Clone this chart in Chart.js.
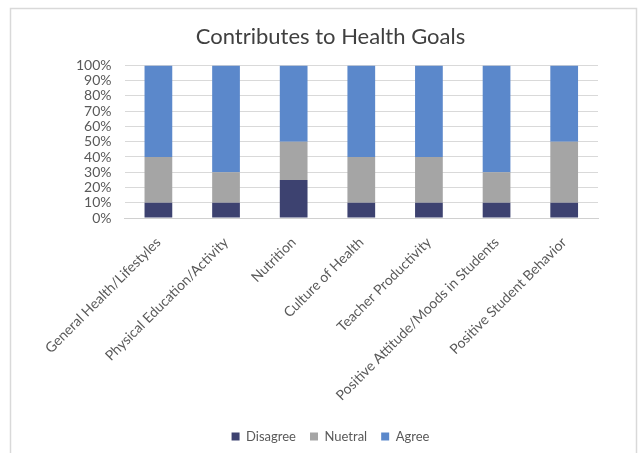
<!DOCTYPE html>
<html>
<head>
<meta charset="utf-8">
<script src="https://cdn.jsdelivr.net/npm/chart.js@4"></script>
<style>
  html, body { margin: 0; padding: 0; background: #fff; }
  #wrap { width: 639px; height: 453px; position: relative; }
</style>
</head>
<body>
<div id="wrap"><canvas id="chart" width="639" height="453"></canvas></div>
<script>
const kategorien = [
  'General Health/Lifestyles',
  'Physical Education/Activity',
  'Nutrition',
  'Culture of Health',
  'Teacher Productivity',
  'Positive Attitude/Moods in Students',
  'Positive Student Behavior'
];
const disagree = [10, 10, 25, 10, 10, 10, 10];
const nuetral = [30, 20, 25, 30, 30, 20, 40];
const agree = [60, 70, 50, 60, 60, 70, 50];

const schrift = 'Lato, "Open Sans", sans-serif';
const textFarbe = '#595959';

// heller Rahmen wie im Original
const rahmen = {
  id: 'rahmen',
  beforeDraw(chart) {
    const ctx = chart.ctx;
    ctx.save();
    ctx.fillStyle = '#fff';
    ctx.fillRect(0, 0, chart.width, chart.height);
    ctx.strokeStyle = '#d9d9d9';
    ctx.lineWidth = 1.5;
    ctx.strokeRect(10.5, 8.5, 626, 470);
    ctx.restore();
  }
};

new Chart(document.getElementById('chart'), {
  type: 'bar',
  data: {
    labels: kategorien,
    datasets: [
      { label: 'Disagree', data: disagree, backgroundColor: '#3d4270' },
      { label: 'Nuetral', data: nuetral, backgroundColor: '#a5a5a5' },
      { label: 'Agree', data: agree, backgroundColor: '#5b88cb' }
    ]
  },
  options: {
    responsive: false,
    animation: false,
    layout: { padding: { left: 63, right: 41, top: 14, bottom: 0 } },
    datasets: { bar: { categoryPercentage: 1, barPercentage: 0.41 } },
    plugins: {
      title: {
        display: true,
        text: 'Contributes to Health Goals',
        color: '#404040',
        font: { family: schrift, size: 22, weight: 'normal' },
        padding: { top: 10, bottom: 15 }
      },
      legend: {
        position: 'bottom',
        labels: {
          color: textFarbe,
          font: { family: schrift, size: 13 },
          boxWidth: 8,
          boxHeight: 8,
          padding: 14
        }
      },
      tooltip: { enabled: false }
    },
    scales: {
      x: {
        stacked: true,
        grid: { display: false },
        border: { display: true, color: '#d0d0d0' },
        ticks: {
          color: textFarbe,
          font: { family: schrift, size: 14 },
          minRotation: 45,
          maxRotation: 45,
          autoSkip: false,
          padding: 8
        },
        afterFit(scale) { scale.height += 4; }
      },
      y: {
        stacked: true,
        min: 0,
        max: 100,
        grid: { color: '#d9d9d9', drawTicks: false },
        border: { display: false },
        ticks: {
          count: 11,
          autoSkip: false,
          color: textFarbe,
          font: { family: schrift, size: 14, lineHeight: 1 },
          padding: 13,
          callback: v => v + '%'
        }
      }
    }
  },
  plugins: [rahmen]
});
</script>
</body>
</html>
